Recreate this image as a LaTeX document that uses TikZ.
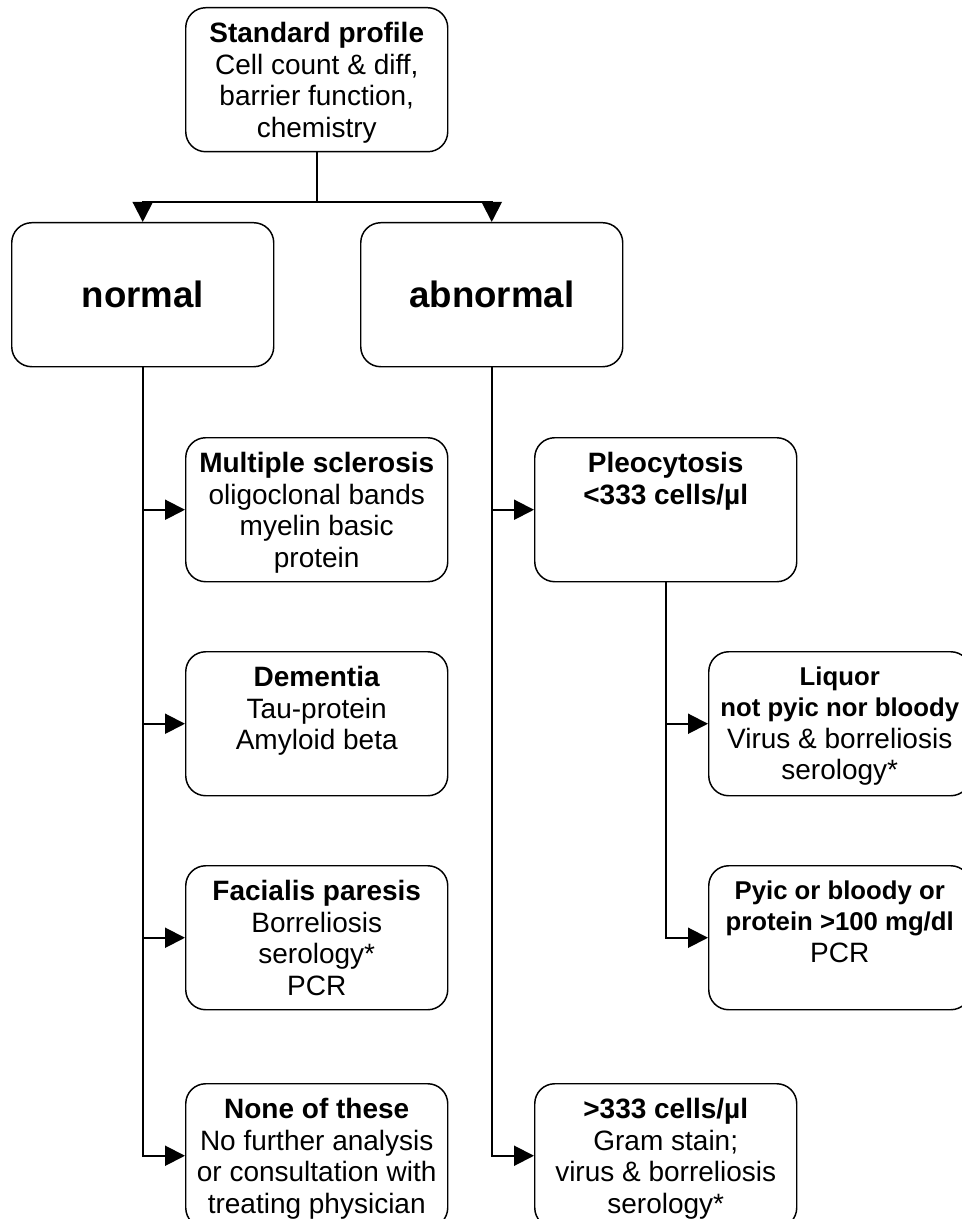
\documentclass[tikz,border=0pt]{standalone}
\usepackage{fontspec}
\setmainfont{Liberation Sans}
\usetikzlibrary{arrows.meta}

\tikzset{
  stepbox/.style={draw, line width=1.1pt, rounded corners=15pt, anchor=north west,
    minimum width=196.5pt, minimum height=108pt, inner sep=0pt,
    font=\fontsize{21}{23.7}\selectfont},
  headbox/.style={stepbox, font=\fontsize{27.5}{31}\selectfont\bfseries},
  link/.style={line width=1.5pt, -{Triangle[length=15pt,width=15pt]}},
  trunk/.style={line width=1.5pt},
}
\newcommand{\boxtext}[1]{\parbox[c][86pt][t]{194pt}{\centering #1}}
\newcommand{\smallbold}[1]{{\fontsize{19.3}{23.7}\selectfont\bfseries #1}}

\begin{document}
\begin{tikzpicture}[x=0.75pt,y=0.75pt,yscale=-1,xscale=1]
    \useasboundingbox (0,0) rectangle (962,1219);
    \clip (0,0) rectangle (962,1219);

    %Shape: top box
    \node[stepbox] (profile) at (185,7) {\boxtext{\textbf{Standard profile}\\Cell count \& diff,\\barrier function,\\chemistry}};

    %Shape: first split
    \node[headbox] (normal) at (11,222) {normal};
    \node[headbox] (abnormal) at (360,222) {abnormal};

    %Shape: normal column
    \node[stepbox] (sclerosis) at (185,437) {\boxtext{\textbf{Multiple sclerosis}\\oligoclonal bands\\myelin basic\\protein}};
    \node[stepbox] (dementia) at (185,651) {\boxtext{\textbf{Dementia}\\Tau-protein\\Amyloid beta}};
    \node[stepbox] (facialis) at (185,865) {\boxtext{\textbf{Facialis paresis}\\Borreliosis\\serology*\\PCR}};
    \node[stepbox] (nonebox) at (185,1083) {\boxtext{\textbf{None of these}\\No further analysis\\or consultation with\\treating physician}};

    %Shape: abnormal column
    \node[stepbox] (pleo) at (534,437) {\boxtext{\textbf{Pleocytosis}\\\textbf{<333 cells/µl}}};
    \node[stepbox] (manycells) at (534,1083) {\boxtext{\textbf{>333 cells/µl}\\Gram stain;\\virus \& borreliosis\\serology*}};
    \node[stepbox] (liquor) at (708,651) {\boxtext{\smallbold{Liquor}\\\smallbold{not pyic nor bloody}\\Virus \& borreliosis\\serology*}};
    \node[stepbox] (pyic) at (708,865) {\boxtext{\smallbold{Pyic or bloody or}\\\smallbold{protein >100 mg/dl}\\PCR}};

    % Connectors
    \coordinate (split) at (profile.south |- 0,202);
    \draw[trunk] (profile.south) -- (split);
    \draw[link] (split) -| (normal.north);
    \draw[link] (split) -| (abnormal.north);

    \draw[link] (normal.south) |- (sclerosis.west);
    \draw[link] (normal.south) |- (dementia.west);
    \draw[link] (normal.south) |- (facialis.west);
    \draw[link] (normal.south) |- (nonebox.west);

    \draw[link] (abnormal.south) |- (pleo.west);
    \draw[link] (abnormal.south) |- (manycells.west);

    \draw[link] (pleo.south) |- (liquor.west);
    \draw[link] (pleo.south) |- (pyic.west);

\end{tikzpicture}
\end{document}
